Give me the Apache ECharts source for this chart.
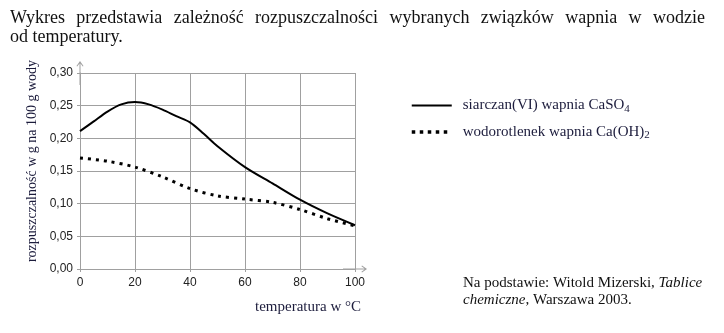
<!DOCTYPE html>
<html><head><meta charset="utf-8">
<script src="https://cdn.jsdelivr.net/npm/echarts@6/dist/echarts.min.js"></script>
<style>html,body{margin:0;padding:0;background:#fff}#c{width:724px;height:333px}</style>
</head><body><div id="c"></div>
<script>
// ---- data ----
const tempsCaSO4 = [0, 5, 10, 15, 20, 25, 30, 35, 40, 45, 50, 60, 70, 80, 90, 100];
const caso4 = [0.211, 0.226, 0.241, 0.252, 0.2556, 0.252, 0.244, 0.234, 0.2245, 0.207, 0.188, 0.156, 0.131, 0.106, 0.085, 0.067];
const tempsCaOH2 = [0, 10, 20, 30, 40, 50, 60, 70, 80, 90, 100];
const caoh2 = [0.170, 0.165, 0.156, 0.141, 0.123, 0.112, 0.107, 0.102, 0.091, 0.077, 0.066];
const seriesNames = ['siarczan(VI) wapnia CaSO4', 'wodorotlenek wapnia Ca(OH)2'];
const legendRich = ['{t|siarczan(VI) wapnia CaSO}{s|4}', '{t|wodorotlenek wapnia Ca(OH)}{s|2}'];
const xTicks = [0, 20, 40, 60, 80, 100];
const yTicks = [0, 0.05, 0.10, 0.15, 0.20, 0.25, 0.30];
const titleLine1 = 'Wykres przedstawia zależność rozpuszczalności wybranych związków wapnia w wodzie';
const titleLine2 = 'od temperatury.';
const yName = 'rozpuszczalność w g na 100 g wody';
const xName = 'temperatura w °C';

const SERIF = '"Liberation Serif", "Times New Roman", serif';
const SANS = '"Liberation Sans", Arial, sans-serif';
const NAVY = '#1c1c3c';
const GRID = '#a0a0a0';

function pairs(xs, ys) { return xs.map((x, i) => [x, ys[i]]); }

// justified first title line
const cv = document.createElement('canvas').getContext('2d');
const TFS = 18;
cv.font = TFS + 'px ' + SERIF;
const words = titleLine1.split(' ');
const wW = words.map(w => cv.measureText(w).width);
const tot = wW.reduce((a, b) => a + b, 0);
const L = 10, R = 705;
const gap = (R - L - tot) / (words.length - 1);
const graphics = [];
let cx = L;
words.forEach((w, i) => {
  graphics.push({type: 'text', x: cx, y: 18, style: {text: w, font: TFS + 'px ' + SERIF, fill: '#111', align: 'left', verticalAlign: 'middle'}});
  cx += wW[i] + gap;
});
graphics.push({type: 'text', x: L, y: 37, style: {text: titleLine2, font: TFS + 'px ' + SERIF, fill: '#111', align: 'left', verticalAlign: 'middle'}});
graphics.push({type: 'text', x: 32, y: 161, rotation: Math.PI / 2, style: {text: yName, font: '14px ' + SERIF, fill: NAVY, align: 'center', verticalAlign: 'middle'}});
graphics.push({type: 'text', x: 361, y: 307, style: {text: xName, font: '15px ' + SERIF, fill: NAVY, align: 'right', verticalAlign: 'middle'}});
graphics.push({type: 'text', x: 463, y: 275, style: {
  text: 'Na podstawie: Witold Mizerski, {i|Tablice}\n{i|chemiczne}, Warszawa 2003.',
  fontFamily: SERIF, fontSize: 15, lineHeight: 17, fill: '#111', align: 'left', verticalAlign: 'top',
  rich: {i: {fontStyle: 'italic', fontFamily: SERIF, fontSize: 15, lineHeight: 17, fill: '#111'}}
}});

const arrowPath = 'path://M3.5,0 L7,5 L6.3,5.6 L4,2.4 L4,24 L3,24 L3,2.4 L0.7,5.6 L0,5 Z';

const chart = echarts.init(document.getElementById('c'), null, {renderer: 'canvas'});
chart.setOption({
  animation: false,
  backgroundColor: '#fff',
  grid: {left: 80, right: 369, top: 73, bottom: 64, containLabel: false},
  legend: {
    orient: 'vertical', left: 405, top: 93, itemWidth: 40, itemHeight: 15, itemGap: 10,
    data: [
      {name: seriesNames[0], lineStyle: {width: 2, color: '#000'}},
      {name: seriesNames[1], lineStyle: {width: 3.5, color: '#000', type: [3.5, 4.5], cap: 'butt'}}
    ],
    itemStyle: {opacity: 0},
    formatter: name => legendRich[seriesNames.indexOf(name)],
    textStyle: {
      fontFamily: SERIF, fontSize: 15, color: NAVY, padding: [0, 0, 0, 6],
      rich: {
        t: {fontFamily: SERIF, fontSize: 15, lineHeight: 18, color: NAVY},
        s: {fontFamily: SERIF, fontSize: 11, lineHeight: 11, color: NAVY, verticalAlign: 'bottom'}
      }
    }
  },
  xAxis: {
    type: 'value', min: xTicks[0], max: xTicks[xTicks.length - 1], interval: 20,
    axisLine: {show: true, lineStyle: {color: GRID, width: 1}, symbol: ['none', arrowPath], symbolSize: [7, 24]},
    axisTick: {show: true, length: 3, lineStyle: {color: GRID}},
    splitLine: {show: true, lineStyle: {color: GRID, width: 1}},
    axisLabel: {fontFamily: SANS, fontSize: 12, color: '#222', margin: 8}
  },
  yAxis: {
    type: 'value', min: yTicks[0], max: yTicks[yTicks.length - 1], interval: 0.05,
    axisLine: {show: true, lineStyle: {color: GRID, width: 1}, symbol: ['none', arrowPath], symbolSize: [7, 24]},
    axisTick: {show: true, length: 3, lineStyle: {color: GRID}},
    splitLine: {show: true, lineStyle: {color: GRID, width: 1}},
    axisLabel: {fontFamily: SANS, fontSize: 12, color: '#222', margin: 7,
      formatter: v => v.toFixed(2).replace('.', ',')}
  },
  series: [
    {name: seriesNames[0], type: 'line', data: pairs(tempsCaSO4, caso4), smooth: 0.3, symbol: 'none',
      lineStyle: {color: '#000', width: 2}, itemStyle: {color: '#000'}, z: 3},
    {name: seriesNames[1], type: 'line', data: pairs(tempsCaOH2, caoh2), smooth: 0.3, symbol: 'none',
      lineStyle: {color: '#000', width: 3, type: [3, 5], cap: 'butt'}, itemStyle: {color: '#000'}, z: 2}
  ],
  graphic: graphics
});
</script></body></html>
